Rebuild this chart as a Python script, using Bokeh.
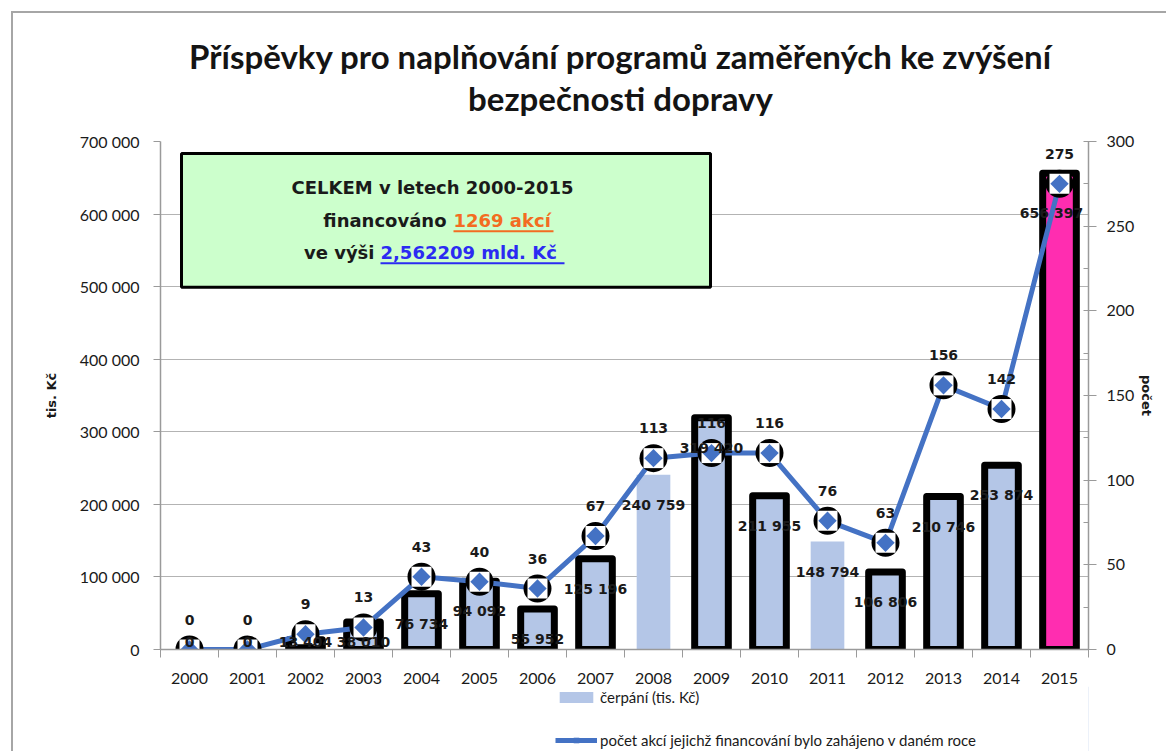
import math
from bokeh.plotting import figure
from bokeh.layouts import column
from bokeh.models import (Range1d, LinearAxis, FixedTicker, Label, Legend, LegendItem,
                          ColumnDataSource, InlineStyleSheet)
from bokeh.core.properties import value
from bokeh.embed import file_html
from bokeh.resources import INLINE

# ---------------- data ----------------
years = [2000, 2001, 2002, 2003, 2004, 2005, 2006, 2007,
         2008, 2009, 2010, 2011, 2012, 2013, 2014, 2015]
cerpani = [0, 0, 13404, 38010, 76734, 94092, 55952, 125196,
           240759, 319420, 211955, 148794, 106806, 210746, 253874, 656397]
pocet = [0, 0, 9, 13, 43, 40, 36, 67, 113, 116, 116, 76, 63, 156, 142, 275]
left_ticks = [0, 100000, 200000, 300000, 400000, 500000, 600000, 700000]
right_ticks = [0, 50, 100, 150, 200, 250, 300]

title_lines = ["Příspěvky pro naplňování programů zaměřených ke zvýšení",
               "bezpečnosti dopravy"]
left_title = "tis. Kč"
right_title = "počet"
bar_name = "čerpání (tis. Kč)"
line_name = "počet akcí jejichž financování bylo zahájeno v daném roce"

# ---------------- layout constants ----------------
W, H = 1166, 751
HT = 120                      # title strip height
HL = 65                       # legend strip height
HM = H - HT - HL              # main chart figure height
FL, FR, FT, FB = 160, 1088, 141, 650   # plot frame in page pixels
X0, X1 = years[0] - 0.5, years[-1] + 0.5
YMAX, CMAX = left_ticks[-1], right_ticks[-1]

def dx(px):
    return X0 + (px - FL) / (FR - FL) * (X1 - X0)

def dy(py):
    return (FB - py) / (FB - FT) * YMAX

def py_of(v):
    return FB - v / YMAX * (FB - FT)

LIGHT = "#b4c6e7"
PINK = "#ff2db0"
BLUE = "#4472c4"
TXT = "#1a1a1a"
AXC = "#9a9a9a"

# ---------------- title strip ----------------
t = figure(width=W, height=HT, output_backend="svg", toolbar_location=None,
           x_range=Range1d(FL, FR), y_range=Range1d(0, HT),
           x_axis_location=None, y_axis_location=None, min_border=0)
t.outline_line_color = None
t.border_fill_color = "white"
t.xgrid.visible = False
t.ygrid.visible = False
for i, line in enumerate(title_lines):
    t.add_layout(Label(x=620, y=HT - (55 + 42 * i), text=line, text_align="center",
                       text_baseline="middle", text_font="Lato", text_font_style="bold",
                       text_font_size="33px", text_color="#141414"))

# ---------------- main chart ----------------
p = figure(width=W, height=HM, output_backend="svg", toolbar_location=None,
           x_range=Range1d(X0, X1), y_range=Range1d(0, YMAX),
           min_border_left=FL, min_border_right=W - FR,
           min_border_top=FT - HT, min_border_bottom=HT + HM - FB)
p.outline_line_color = None
p.background_fill_color = "white"
p.border_fill_color = "white"
p.extra_y_ranges = {"cnt": Range1d(0, CMAX)}

# grid
p.xgrid.grid_line_color = None
p.ygrid.ticker = FixedTicker(ticks=left_ticks)
p.ygrid.grid_line_color = "#b3b3b3"
p.ygrid.grid_line_width = 1

# x axis
xa = p.xaxis[0]
xa.ticker = FixedTicker(ticks=years, minor_ticks=[y - 0.5 for y in years] + [years[-1] + 0.5])
xa.major_tick_out = 0
xa.major_tick_in = 0
xa.minor_tick_out = 8
xa.minor_tick_in = 0
xa.minor_tick_line_color = AXC
xa.axis_line_color = AXC
xa.axis_line_width = 1.5
xa.major_label_standoff = 15
xa.major_label_text_font = "Lato"
xa.major_label_text_font_size = "16px"
xa.major_label_text_color = TXT
xa.major_label_overrides = {y: str(y) for y in years}

# left axis
ya = p.yaxis[0]
ya.ticker = FixedTicker(ticks=left_ticks)
ya.major_label_overrides = {v: f"{v:,}".replace(",", " ") for v in left_ticks}
ya.major_tick_out = 7
ya.major_tick_in = 0
ya.minor_tick_out = 0
ya.minor_tick_in = 0
ya.major_tick_line_color = AXC
ya.axis_line_color = AXC
ya.axis_line_width = 1.5
ya.major_label_standoff = 14
ya.major_label_text_font = "Lato"
ya.major_label_text_font_size = "16px"
ya.major_label_text_color = TXT
ya.axis_label = left_title
ya.axis_label_standoff = 18
ya.axis_label_text_font = "DejaVu Sans"
ya.axis_label_text_font_style = "bold"
ya.axis_label_text_font_size = "13px"
ya.axis_label_text_color = TXT

# right axis
ra = LinearAxis(y_range_name="cnt",
                ticker=FixedTicker(ticks=right_ticks,
                                   minor_ticks=[v + 25 for v in right_ticks[:-1]]))
ra.major_tick_out = 8
ra.major_tick_in = 5
ra.minor_tick_out = 0
ra.minor_tick_in = 5
ra.major_tick_line_color = AXC
ra.minor_tick_line_color = AXC
ra.axis_line_color = AXC
ra.axis_line_width = 1.5
ra.major_label_standoff = 10
ra.major_label_text_font = "Lato"
ra.major_label_text_font_size = "16px"
ra.major_label_text_color = TXT
ra.axis_label = right_title
ra.axis_label_orientation = "parallel"
ra.axis_label_standoff = 2
ra.axis_label_text_font = "DejaVu Sans"
ra.axis_label_text_font_style = "bold"
ra.axis_label_text_font_size = "13px"
ra.axis_label_text_color = TXT
p.add_layout(ra, "right")

# summary box
p.quad(left=[dx(181)], right=[dx(710)], top=[dy(153)], bottom=[dy(287)],
       fill_color="#ccffcc", line_color="black", line_width=3)

# bars
n = len(years)
outlined = [1 if v > 0 else 0 for v in cerpani]
outlined[years.index(2008)] = 0
outlined[years.index(2011)] = 0
fills = [LIGHT] * (n - 1) + [PINK]
bsrc = ColumnDataSource(dict(x=years, top=cerpani, fill=fills, la=outlined))
p.vbar(x="x", top="top", width=0.58, source=bsrc, fill_color="fill",
       line_color="black", line_alpha="la", line_width=7, line_join="round")

# line with markers
lsrc = ColumnDataSource(dict(x=years, y=pocet))
p.line(x="x", y="y", source=lsrc, y_range_name="cnt", line_color=BLUE, line_width=5)
p.scatter(x="x", y="y", source=lsrc, y_range_name="cnt", marker="circle", size=28,
          fill_color="black", line_color=None)
p.scatter(x="x", y="y", source=lsrc, y_range_name="cnt", marker="square", size=20,
          fill_color="white", line_color=None)
p.scatter(x="x", y="y", source=lsrc, y_range_name="cnt", marker="square", size=13,
          angle=math.pi / 4, fill_color=BLUE, line_color=None)

# value labels (below the bar tops; kept inside the plot area)
vlab = [f"{v:,}".replace(",", " ") for v in cerpani]
vy_off = [min(30, 642 - py_of(v)) for v in cerpani]
vy_off[-1] = 40
vx_off = [0] * (n - 1) + [-8]
vsrc = ColumnDataSource(dict(x=years, y=cerpani, t=vlab, xo=vx_off, yo=vy_off))
p.text(x="x", y="y", text="t", source=vsrc, text_align="center", text_baseline="middle",
       x_offset="xo", y_offset="yo", text_font=value("DejaVu Sans"), text_font_style="bold",
       text_font_size="14px", text_color=TXT)

# count labels
csrc = ColumnDataSource(dict(x=years, y=pocet, t=[str(c) for c in pocet]))
p.text(x="x", y="y", text="t", source=csrc, y_range_name="cnt", text_align="center",
       text_baseline="middle", y_offset=-30,
       text_font=value("DejaVu Sans"), text_font_style="bold",
       text_font_size="14px", text_color=TXT)

# box text
box_font = dict(text_font="DejaVu Sans", text_font_style="bold", text_font_size="18px",
                text_baseline="middle")
p.add_layout(Label(x=dx(432), y=dy(187), text="CELKEM v letech 2000-2015",
                   text_align="center", text_color=TXT, **box_font))
p.add_layout(Label(x=dx(446), y=dy(220), text="financováno", text_align="right",
                   text_color=TXT, **box_font))
p.add_layout(Label(x=dx(453), y=dy(220), text="1269 akcí", text_align="left",
                   text_color="#f36c21", **box_font))
p.add_layout(Label(x=dx(374), y=dy(252), text="ve výši", text_align="right",
                   text_color=TXT, **box_font))
p.add_layout(Label(x=dx(380), y=dy(252), text="2,562209 mld. Kč", text_align="left",
                   text_color="#2b2bf2", **box_font))
p.segment(x0=[dx(453)], x1=[dx(553)], y0=[dy(231)], y1=[dy(231)],
          line_color="#f36c21", line_width=2)
p.segment(x0=[dx(380)], x1=[dx(564)], y0=[dy(263)], y1=[dy(263)],
          line_color="#2b2bf2", line_width=2)

# ---------------- legend strip below the chart ----------------
q = figure(width=W, height=HL, output_backend="svg", toolbar_location=None,
           x_range=Range1d(0, 1), y_range=Range1d(0, 1),
           x_axis_location=None, y_axis_location=None,
           min_border=0)
q.outline_line_color = None
q.border_fill_color = "white"
q.xgrid.visible = False
q.ygrid.visible = False
offscreen = ColumnDataSource(dict(x=[5], y=[5], top=[5]))
rb = q.vbar(x="x", top="top", width=0.5, source=offscreen, fill_color=LIGHT, line_color=None)
rl = q.line(x="x", y="y", source=offscreen, line_color=BLUE, line_width=5)
rd = q.scatter(x="x", y="y", source=offscreen, marker="square", angle=math.pi / 4, size=9,
               fill_color=BLUE, line_color=None)
legend = Legend(items=[LegendItem(label=bar_name, renderers=[rb]),
                       LegendItem(label=line_name, renderers=[rl, rd])],
                location=(555 - FL, 2), orientation="vertical",
                glyph_width=42, glyph_height=14, label_standoff=3, spacing=25,
                padding=0, margin=0, border_line_color=None, background_fill_alpha=0,
                label_text_font="Lato", label_text_font_size="15px",
                label_text_color=TXT)
q.add_layout(legend, "center")

layout = column(t, p, q, spacing=0)
layout.stylesheets = [InlineStyleSheet(css="""
:host::after { content: ''; position: absolute; left: 11px; top: 11px;
  width: 1155px; height: 740px; box-sizing: border-box; z-index: 10;
  border-left: 2px solid #a6a6a6; border-top: 2px solid #a6a6a6; pointer-events: none; }
""")]
open("out.html", "w").write(file_html(layout, INLINE))
